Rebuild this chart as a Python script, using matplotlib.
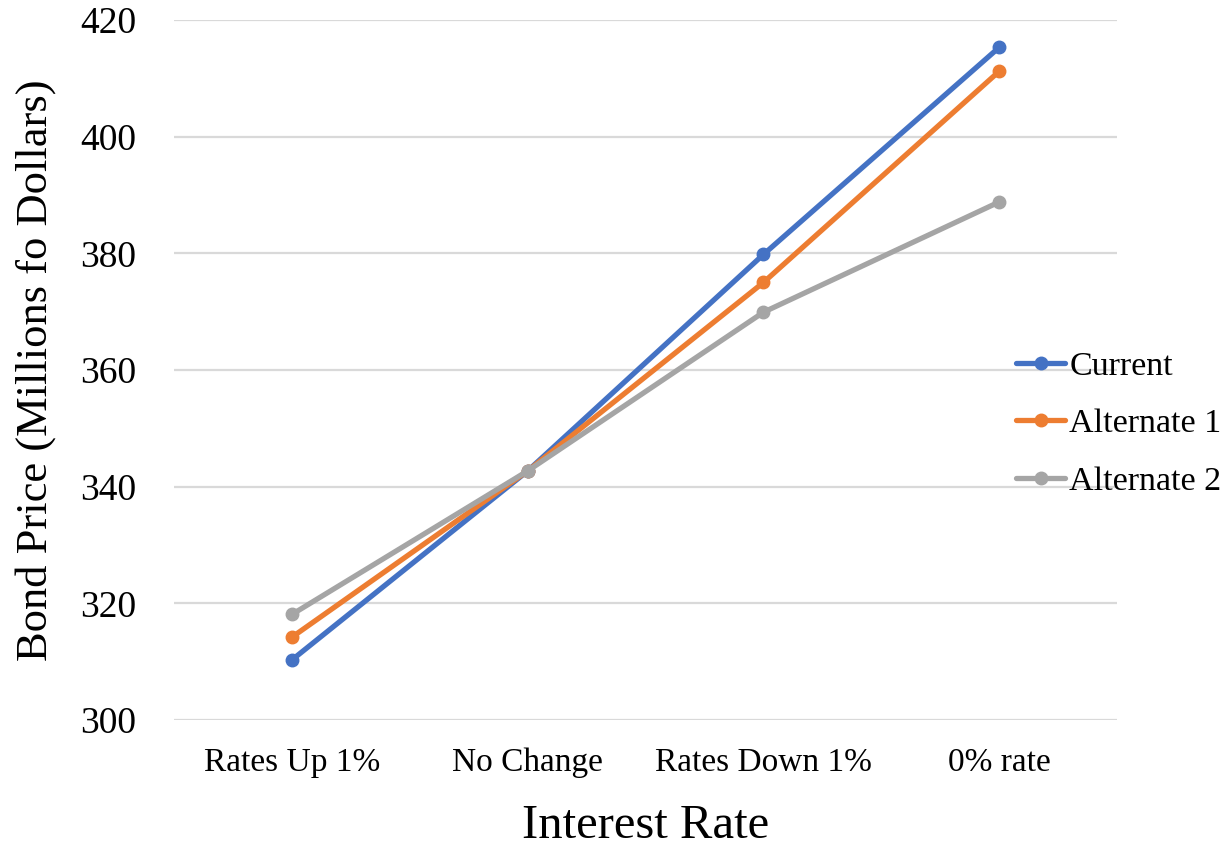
import matplotlib.pyplot as plt
import numpy as np

plt.rcParams["font.family"] = ["Liberation Serif", "DejaVu Serif"]

categories = ["Rates Up 1%", "No Change", "Rates Down 1%", "0% rate"]
current = [310.3, 342.7, 379.8, 415.3]
alternate_1 = [314.2, 342.7, 375.0, 411.2]
alternate_2 = [318.1, 342.7, 369.9, 388.8]

series = [
    ("Current", current, "#4472C4"),
    ("Alternate 1", alternate_1, "#ED7D31"),
    ("Alternate 2", alternate_2, "#A5A5A5"),
]

fig = plt.figure(figsize=(12.29, 8.46), dpi=100)
ax = fig.add_axes([0.1416, 0.1489, 0.7673, 0.8275])

x = np.arange(len(categories))
for name, vals, color in series:
    ax.plot(x, vals, color=color, linewidth=3.8, marker="o",
            markersize=9, label=name, solid_capstyle="round")

ax.set_xlim(-0.5, len(categories) - 0.5)
ax.set_ylim(300, 420)
ax.set_yticks(np.arange(300, 421, 20))
ax.set_xticks(x)
ax.set_xticklabels(categories, fontsize=24)
ax.tick_params(axis="y", labelsize=27, length=0, pad=27)
ax.tick_params(axis="x", length=0, pad=20)

ax.grid(axis="y", color="#d9d9d9", linewidth=1.6)
ax.set_axisbelow(True)
for s in ax.spines.values():
    s.set_visible(False)

ax.set_xlabel("Interest Rate", fontsize=35, va="center")
ax.xaxis.set_label_coords(0.5, -0.151)
ax.set_ylabel("Bond Price (Millions fo Dollars)", fontsize=32, va="center")
ax.yaxis.set_label_coords(-0.147, 0.5)

fig.legend(loc="center left", bbox_to_anchor=(1016 / 1229, 1 - 424 / 846),
           frameon=False, fontsize=24.5, handlelength=1.45, handletextpad=0.12,
           labelspacing=0.78, borderpad=0, borderaxespad=0)

fig.savefig("out.png", dpi=100)
